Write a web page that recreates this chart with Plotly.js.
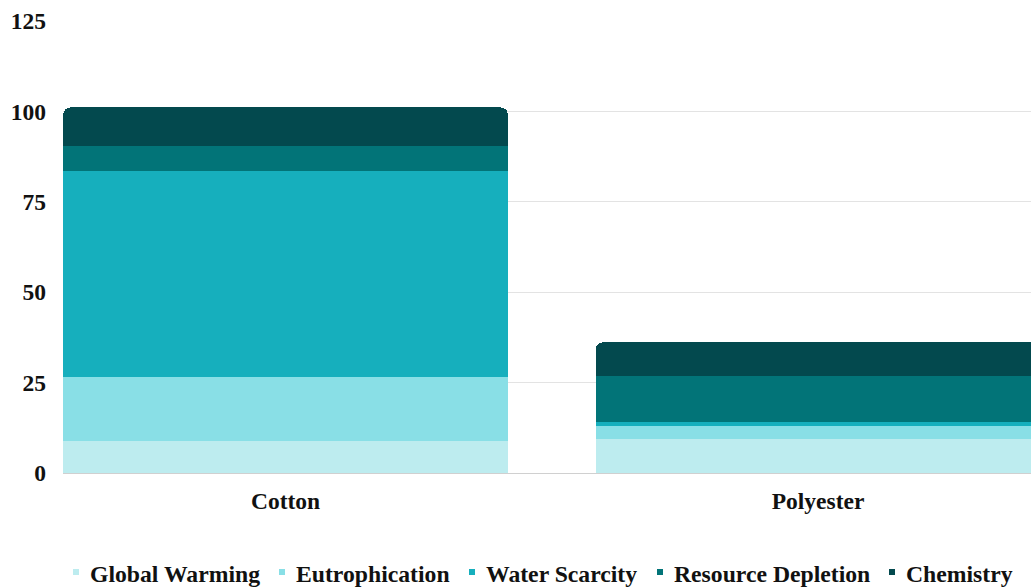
<!DOCTYPE html>
<html>
<head>
<meta charset="utf-8">
<script src="https://cdn.plot.ly/plotly-3.0.1.min.js"></script>
<style>
  html, body { margin: 0; padding: 0; background: #ffffff; }
  #chart { width: 1031px; height: 588px; }
</style>
</head>
<body>
<div id="chart"></div>
<script>
// Fabrics compared, and the impact categories stacked inside each bar
const fabrics = ['Cotton', 'Polyester'];
const categories = ['Global Warming', 'Eutrophication', 'Water Scarcity', 'Resource Depletion', 'Chemistry'];

// Impact scores per category (Cotton, Polyester)
const globalWarming     = [8.9, 9.5];
const eutrophication    = [17.6, 3.5];
const waterScarcity     = [57.0, 1.2];
const resourceDepletion = [6.8, 12.7];
const chemistry         = [10.8, 9.2];

const yTicks = [0, 25, 50, 75, 100, 125];

const series = [globalWarming, eutrophication, waterScarcity, resourceDepletion, chemistry];
const colors = ['#bdecef', '#89dfe6', '#16afbd', '#027478', '#03494e'];

const W = 1031, H = 588;
const M = { l: 63, r: 0, t: 21, b: 115 };
const plotW = W - M.l - M.r, plotH = H - M.t - M.b;

const family = '"Liberation Serif", "Times New Roman", serif';
const axisFont = { family: family, size: 23.5, color: '#111111', weight: 'bold' };
const legendFont = { family: family, size: 23.7, color: '#111111', weight: 'bold' };

const traces = series.map((vals, i) => ({
  type: 'bar',
  x: fabrics,
  y: vals,
  name: categories[i],
  marker: { color: colors[i], line: { width: 0 } },
  width: 0.835,
  showlegend: false,
  hoverinfo: 'x+y+name'
}));

// Custom legend row below the plot: small square key + bold label
const legendTextLeft = [88, 294, 484, 672, 904];   // px from the left of the figure
const legendY = 574;                                 // px from the top of the figure
const toPaperX = px => (px - M.l) / plotW;
const toPaperY = py => (H - M.b - py) / plotH;

const legendShapes = categories.map((c, i) => ({
  type: 'rect',
  xref: 'paper', yref: 'paper',
  xsizemode: 'pixel', ysizemode: 'pixel',
  xanchor: toPaperX(legendTextLeft[i] - 12),
  yanchor: toPaperY(legendY - 2),
  x0: -3, x1: 3, y0: -3, y1: 3,
  fillcolor: colors[i],
  line: { width: 0 }
}));

const legendLabels = categories.map((c, i) => ({
  text: c,
  xref: 'paper', yref: 'paper',
  x: toPaperX(legendTextLeft[i]),
  y: toPaperY(legendY),
  xanchor: 'left', yanchor: 'middle',
  showarrow: false,
  font: legendFont
}));

const layout = {
  width: W,
  height: H,
  margin: M,
  paper_bgcolor: '#ffffff',
  plot_bgcolor: '#ffffff',
  barmode: 'stack',
  barcornerradius: 7,
  showlegend: false,
  xaxis: {
    type: 'category',
    range: [-0.418, 1.4],
    showgrid: false,
    zeroline: false,
    showline: false,
    ticks: '',
    tickfont: axisFont,
    ticklabelstandoff: 11
  },
  yaxis: {
    range: [0, 125],
    tickvals: yTicks,
    ticktext: yTicks.map(String),
    showgrid: true,
    gridcolor: '#e3e3e3',
    gridwidth: 1,
    zeroline: true,
    zerolinecolor: '#d0d0d0',
    zerolinewidth: 1,
    showline: false,
    ticks: '',
    tickfont: axisFont,
    ticklabelstandoff: 16
  },
  shapes: legendShapes,
  annotations: legendLabels
};

Plotly.newPlot('chart', traces, layout, { displayModeBar: false, staticPlot: true });
</script>
</body>
</html>
